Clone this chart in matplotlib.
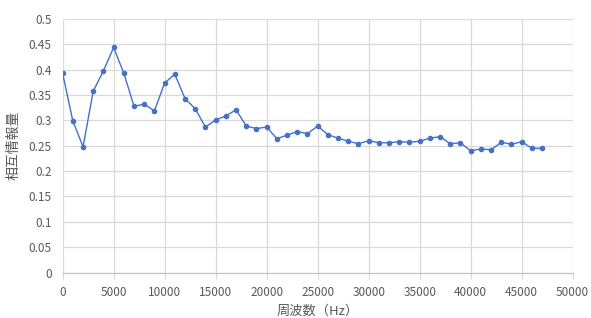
import numpy as np
import matplotlib
matplotlib.use('Agg')
import matplotlib.pyplot as plt

plt.rcParams['font.family'] = ['Noto Sans CJK JP', 'DejaVu Sans']

# frequency (Hz) and mutual information values
freq = [0, 1000, 2000, 3000, 4000, 5000, 6000, 7000, 8000, 9000,
        10000, 11000, 12000, 13000, 14000, 15000, 16000, 17000, 18000, 19000,
        20000, 21000, 22000, 23000, 24000, 25000, 26000, 27000, 28000, 29000,
        30000, 31000, 32000, 33000, 34000, 35000, 36000, 37000, 38000, 39000,
        40000, 41000, 42000, 43000, 44000, 45000, 46000, 47000]
mi = [0.393, 0.299, 0.248, 0.358, 0.398, 0.444, 0.393, 0.328, 0.332, 0.319,
      0.374, 0.391, 0.343, 0.323, 0.287, 0.301, 0.309, 0.321, 0.289, 0.284,
      0.287, 0.264, 0.271, 0.278, 0.274, 0.289, 0.272, 0.265, 0.259, 0.254,
      0.260, 0.256, 0.256, 0.258, 0.257, 0.259, 0.265, 0.268, 0.254, 0.256,
      0.240, 0.244, 0.242, 0.257, 0.253, 0.258, 0.245, 0.245]

xticks = np.arange(0, 50001, 5000)
yticks = np.arange(0, 0.5001, 0.05)
ytick_labels = ['0', '0.05', '0.1', '0.15', '0.2', '0.25', '0.3', '0.35', '0.4', '0.45', '0.5']

fig = plt.figure(figsize=(5.91, 3.18), dpi=100)
ax = fig.add_axes([0.106, 0.143, 0.863, 0.797])

ax.plot(freq, mi, color='#4472C4', linewidth=1.0, marker='o', markersize=3.0, zorder=3)

ax.set_xlim(0, 50000)
ax.set_ylim(0, 0.5)
ax.set_xticks(xticks)
ax.set_xticklabels([str(v) for v in xticks])
ax.set_yticks(yticks)
ax.set_yticklabels(ytick_labels)
ax.grid(True, color='#d9d9d9', linewidth=0.9)
ax.set_axisbelow(True)

for s in ['top', 'right', 'left']:
    ax.spines[s].set_visible(False)
ax.spines['bottom'].set_color('#bfbfbf')
ax.tick_params(axis='both', colors='#d9d9d9', labelcolor='#595959', labelsize=8.5, length=4)
ax.tick_params(axis='y', length=0, pad=8)
ax.tick_params(axis='x', pad=6)

ax.set_xlabel('周波数（Hz）', color='#595959', fontsize=9.5, labelpad=4)
ax.set_ylabel('相互情報量', color='#595959', fontsize=10, labelpad=6)

fig.savefig('out.png', dpi=100, facecolor='white')
